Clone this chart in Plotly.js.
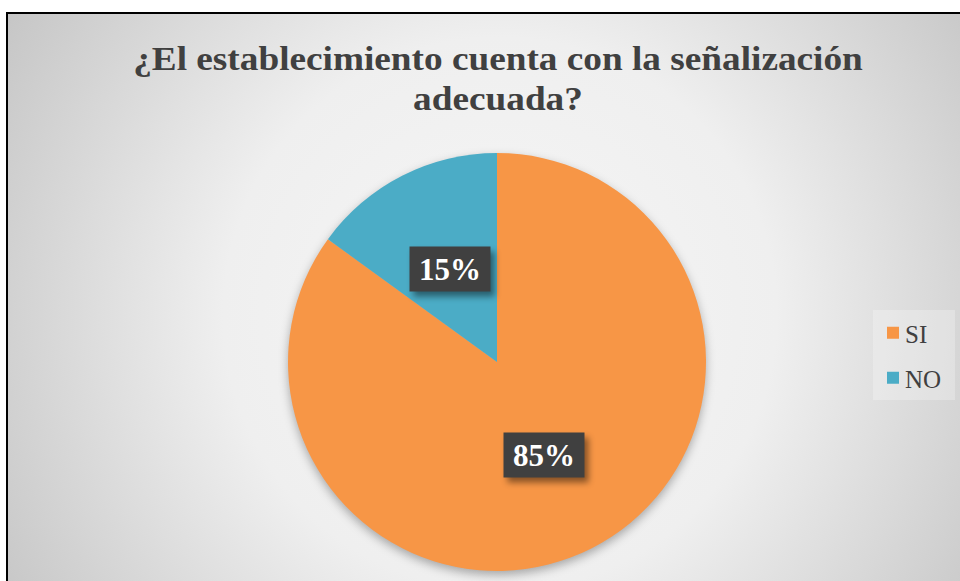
<!DOCTYPE html>
<html>
<head>
<meta charset="utf-8">
<script src="https://cdn.plot.ly/plotly-3.0.1.min.js"></script>
<style>
  html, body { margin: 0; padding: 0; background: #ffffff; overflow: hidden; width: 960px; height: 581px; }
  #frame {
    position: absolute; left: 6px; top: 12px; width: 984px; height: 600px;
    border-left: 2px solid #000; border-top: 2px solid #000;
    background: radial-gradient(circle farthest-corner at 50% 50%, #f6f6f6 0%, #efefef 48%, #c6c6c6 100%);
  }
  #chart { position: absolute; left: 0; top: 0; width: 960px; height: 581px; }
  .pielayer g.trace { filter: drop-shadow(0px 4px 5px rgba(0,0,0,0.30)); }
  .annotation-text-g rect.bg { filter: drop-shadow(4px 5px 3px rgba(0,0,0,0.45)); }
</style>
</head>
<body>
<div id="frame"></div>
<div id="chart"></div>
<script>
// ---- data ----
const categories = ["SI", "NO"];
const values = [85, 15];
const colors = ["#F79646", "#4BACC6"];
const titleLines = ["¿El establecimiento cuenta con la señalización", "adecuada?"];

// ---- geometry (layout only) ----
const W = 960, H = 581;
const cxPx = 497, cyPx = 362, rPx = 209;
const domX = [(cxPx - rPx) / W, (cxPx + rPx) / W];
const domY = [1 - (cyPx + rPx) / H, 1 - (cyPx - rPx) / H];
const serif = "'Liberation Serif', 'Times New Roman', serif";
const titleCx = 498, titleWidth = 730;

// label positions derived from the data (clockwise from 12 o'clock, mid-angle, half radius)
const total = values.reduce((a, b) => a + b, 0);
let cum = 0;
const annotations = values.map((v, i) => {
  const mid = (cum + v / 2) / total * 2 * Math.PI;
  cum += v;
  const px = cxPx + 0.5 * rPx * Math.sin(mid);
  const py = cyPx - 0.5 * rPx * Math.cos(mid);
  return {
    xref: "paper", yref: "paper",
    x: px / W, y: 1 - py / H,
    xanchor: "center", yanchor: "middle",
    text: "<b>" + Math.round(v / total * 100) + "%</b>",
    showarrow: false,
    font: { family: serif, size: 31, color: "#ffffff" },
    bgcolor: "#404040",
    width: 78, height: 42, borderpad: 1
  };
});

const trace = {
  type: "pie",
  labels: categories,
  values: values,
  marker: { colors: colors, line: { width: 0 } },
  sort: false,
  direction: "clockwise",
  rotation: 0,
  textinfo: "none",
  hoverinfo: "none",
  domain: { x: domX, y: domY }
};

const layout = {
  width: W, height: H,
  margin: { l: 0, r: 0, t: 0, b: 0 },
  paper_bgcolor: "rgba(0,0,0,0)",
  plot_bgcolor: "rgba(0,0,0,0)",
  title: {
    text: "<b>" + titleLines.join("<br>") + "</b>",
    font: { family: serif, size: 33, color: "#404040" },
    x: titleCx / W, xanchor: "center", xref: "paper",
    y: 1 - 70 / H, yanchor: "top", yref: "container"
  },
  showlegend: true,
  legend: {
    x: 873 / W, xanchor: "left",
    y: 1 - 310 / H, yanchor: "top",
    bgcolor: "rgba(255,255,255,0.25)",
    font: { family: serif, size: 25, color: "#404040" },
    traceorder: "normal"
  },
  annotations: annotations,
  hovermode: false
};

Plotly.newPlot("chart", [trace], layout, { displayModeBar: false, staticPlot: true }).then(() => {
  // title: tighter line spacing and wider glyphs, like the reference
  const tEl = document.querySelector(".gtitle");
  if (tEl) {
    tEl.querySelectorAll("tspan.line").forEach((t, i) => { if (i > 0) t.setAttribute("dy", "1.21em"); });
    const bb = tEl.getBBox();
    const s = titleWidth / bb.width;
    const cx = bb.x + bb.width / 2;
    const prev = tEl.getAttribute("transform") || "";
    tEl.setAttribute("transform", prev + " translate(" + cx + ",0) scale(" + s + ",1) translate(" + (-cx) + ",0)");
  }

  // wider vertical spacing of legend entries to match reference
  const items = document.querySelectorAll(".legend g.traces");
  const re = /translate\(([-\d.]+)[ ,]*([-\d.]+)?\)/;
  const first = items.length ? (items[0].getAttribute("transform") || "").match(re) : null;
  const y0 = first ? parseFloat(first[2] || 0) : 0;
  const gap = 45;
  items.forEach((g, i) => {
    const m = (g.getAttribute("transform") || "").match(re);
    if (m) g.setAttribute("transform", "translate(" + parseFloat(m[1]) + "," + (y0 + i * gap) + ")");
    const txt = g.querySelector("text.legendtext");
    if (txt) txt.setAttribute("x", "32");
  });
  const bg = document.querySelector(".legend rect.bg");
  if (bg) { bg.setAttribute("height", "90"); bg.setAttribute("width", "82"); }
});
</script>
</body>
</html>
